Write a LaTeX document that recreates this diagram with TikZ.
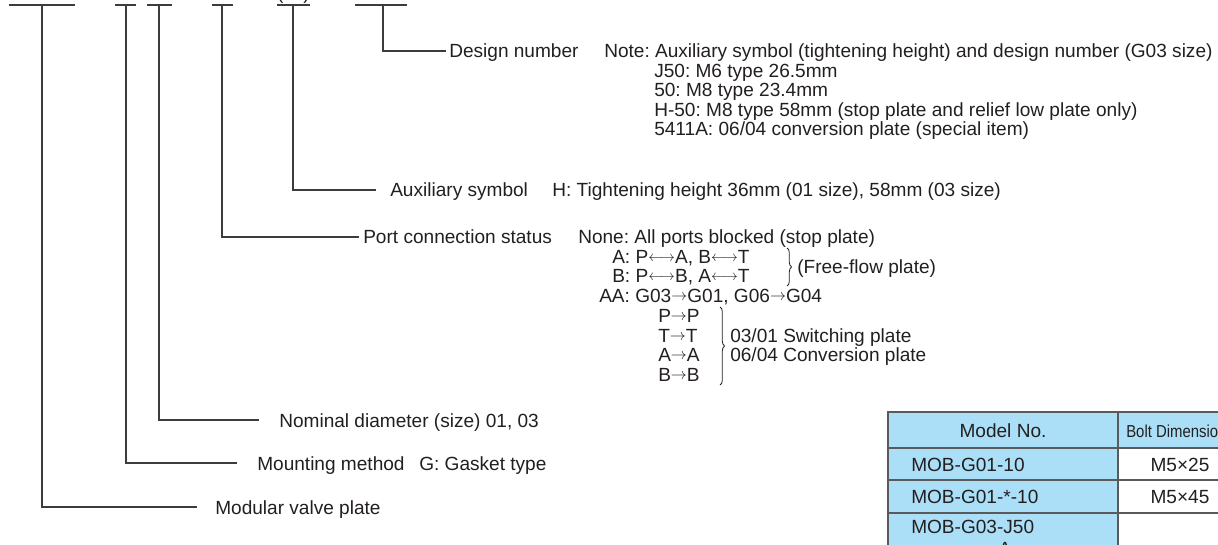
\documentclass[tikz,border=0pt]{standalone}
\usepackage{fontspec}
\setmainfont{Liberation Sans}
\usetikzlibrary{decorations.pathreplacing}
\definecolor{ink}{HTML}{231F20}
\definecolor{rulec}{HTML}{3C3C3C}
\definecolor{cellblue}{HTML}{ABDFF8}
\definecolor{cellline}{HTML}{5A5A5A}
\newcommand{\lra}{\raisebox{1.6pt}{\fontsize{10.5}{10}\selectfont$\longleftrightarrow$}}
\newcommand{\sra}{\raisebox{1.6pt}{\fontsize{11.5}{10}\selectfont$\rightarrow$}}
\tikzset{
  lbl/.style={anchor=base west, inner sep=0pt, text=ink, font=\fontsize{14.3}{18}\selectfont\frenchspacing},
  lead/.style={draw=rulec, line width=0.8pt},
  topbar/.style={draw=rulec, line width=0.8pt},
  brc/.style={draw=ink, line width=0.6pt, decorate, decoration={brace, amplitude=3.5pt}},
  cell/.style={draw=cellline, line width=1.3pt},
  ctxt/.style={anchor=base, inner sep=0pt, text=ink, font=\fontsize{14.3}{18}\selectfont\frenchspacing},
}
\begin{document}
\begin{tikzpicture}[x=0.75pt,y=-0.75pt]
\useasboundingbox (0,0) rectangle (1218,545);
\clip (0,0) rectangle (1218,545);
% top bars
\foreach \a/\b/\n/\s in {9/75/1/42, 115/136/2/126, 147/172/3/159, 212/233/4/222, 277/310/5/293, 355/407/6/383} {
  \draw[topbar] (\a,5) -- (\b,5);
  \coordinate (top\n) at (\s,5);
}
\node[ctxt] (paren) at (293.5,-0.5) {(\hspace{15pt})};
% leader ends
\coordinate (e6) at (446,51);
\coordinate (e5) at (376,190);
\coordinate (e4) at (359,237);
\coordinate (e3) at (259,420);
\coordinate (e2) at (237,463);
\coordinate (e1) at (197,507);
\draw[lead] (top6) |- (e6);
\draw[lead] (top5) |- (e5);
\draw[lead] (top4) |- (e4);
\draw[lead] (top3) |- (e3);
\draw[lead] (top2) |- (e2);
\draw[lead] (top1) |- (e1);
% design number
\node[lbl] (dn) at (449,58) {Design number};
\node[lbl] (note) at (604,58) {Note: Auxiliary symbol (tightening height) and design number (G03 size)};
\node[lbl] (n1) at (654,78) {J50: M6 type 26.5mm};
\node[lbl] (n2) at (654,97) {50: M8 type 23.4mm};
\node[lbl] (n3) at (654,117) {H-50: M8 type 58mm (stop plate and relief low plate only)};
\node[lbl] (n4) at (654,136) {5411A: 06/04 conversion plate (special item)};
% auxiliary
\node[lbl] (aux) at (390,197) {Auxiliary symbol};
\node[lbl] (auxh) at (552,197) {H: Tightening height 36mm (01 size), 58mm (03 size)};
% port
\node[lbl] (port) at (363,244) {Port connection status};
\node[lbl] (pnone) at (578,244) {None: All ports blocked (stop plate)};
\node[lbl] (pa) at (612,264) {A: P\lra A, B\lra T};
\node[lbl] (pb) at (612,283) {B: P\lra B, A\lra T};
\node[lbl] (paa) at (599,303) {AA: G03\sra G01, G06\sra G04};
\node[lbl] (pp) at (658,323) {P\sra P};
\node[lbl] (tt) at (658,343) {T\sra T};
\node[lbl] (aa) at (658,362) {A\sra A};
\node[lbl] (bb) at (658,382) {B\sra B};
\coordinate (b1t) at (787,248);
\coordinate (b1b) at (787,286);
\draw[brc] (b1t) -- (b1b);
\node[lbl] (ff) at (797,274) {(Free-flow plate)};
\coordinate (b2t) at (720,307);
\coordinate (b2b) at (720,385);
\draw[brc] (b2t) -- (b2b);
\node[lbl] (sw) at (730,343) {03/01 Switching plate};
\node[lbl] (cv) at (730,362) {06/04 Conversion plate};
% lower labels
\node[lbl] (nom) at (279,427) {Nominal diameter (size) 01, 03};
\node[lbl] (mnt) at (257,470) {Mounting method};
\node[lbl] (mntg) at (419,470) {G: Gasket type};
\node[lbl] (mod) at (215,514) {Modular valve plate};
% table
\fill[cellblue] (888,412) rectangle (1260,448);
\fill[cellblue] (888,448) rectangle (1118,570);
\fill[white] (1118,448) rectangle (1260,570);
\draw[cell] (888,570) -- (888,412) -- (1260,412);
\draw[cell] (888,448) -- (1260,448);
\draw[cell] (888,480) -- (1260,480);
\draw[cell] (888,513) -- (1260,513);
\draw[cell] (1118,412) -- (1118,570);
\node[ctxt] (hmodel) at (1003,437) {Model No.};
\node[anchor=base west, inner sep=0pt, text=ink] (hbolt) at (1126,437) {\scalebox{0.86}[1]{\fontsize{13}{15}\selectfont Bolt Dimensions}};
\node[lbl] (r1) at (911,471) {MOB-G01-10};
\node[ctxt] (r1b) at (1180,471) {M5×25};
\node[lbl] (r2) at (911,503) {MOB-G01-*-10};
\node[ctxt] (r2b) at (1180,503) {M5×45};
\node[lbl] (r3) at (911,533) {MOB-G03-J50};
\node[ctxt] (r3a) at (1005,555) {A};
\end{tikzpicture}
\end{document}
